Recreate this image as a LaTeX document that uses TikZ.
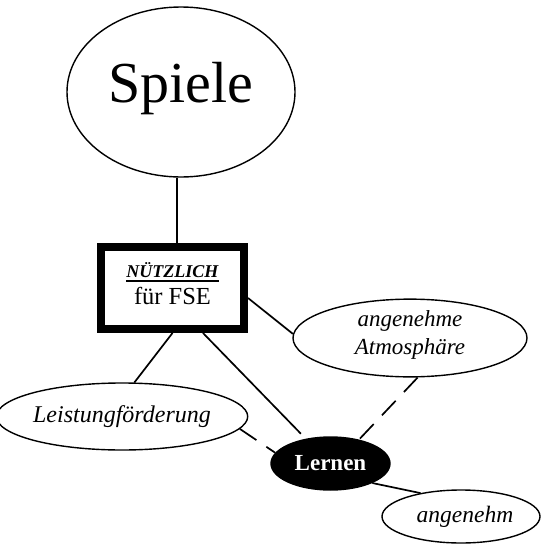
\documentclass[tikz,border=0pt]{standalone}
\usepackage{fontspec}
\setmainfont{Liberation Serif}
\usetikzlibrary{shapes.geometric}
\newcommand\myunder[1]{\setbox0\hbox{#1}\rlap{\rule[-4pt]{\wd0}{1.3pt}}\box0}
\begin{document}
\begin{tikzpicture}[x=1pt,y=-1pt,
  oval/.style={ellipse, draw, line width=1.4pt, inner sep=0pt},
  link/.style={line width=1.7pt},
  dlink/.style={line width=1.7pt, dash pattern=on 20pt off 12pt}]
\useasboundingbox (0,0) rectangle (541,546);
\node[oval, minimum width=228pt, minimum height=170pt, text depth=19.5pt,
  font=\fontsize{58}{60}\selectfont] (spiele) at (181,92) {Spiele};
\node[draw, line width=8pt, minimum width=143pt, minimum height=82pt, inner sep=0pt,
  align=center, font=\fontsize{24.5}{27}\selectfont] (box) at (172.5,288)
  {{\fontsize{18}{18}\selectfont\myunder{\textbf{\textit{NÜTZLICH}}}}\\für FSE\rule[-8.5pt]{0pt}{8.5pt}};
\node[oval, minimum width=234pt, minimum height=70pt, align=center,
  font=\itshape\fontsize{23}{28}\selectfont] (atmo) at (410,338)
  {angenehme\\Atmosphäre\rule[-11pt]{0pt}{11pt}};
\node[oval, minimum width=233pt, minimum height=67pt,
  font=\itshape\fontsize{24}{28}\selectfont] (leist) at (122,416.5) {Leistungförderung};
\node[oval, fill=black, text=white, minimum width=119pt, minimum height=53pt,
  font=\bfseries\fontsize{23}{27}\selectfont] (lernen) at (330.5,463.5) {Lernen};
\node[oval, minimum width=158pt, minimum height=53pt,
  font=\itshape\fontsize{23.5}{28}\selectfont] (ang) at (461,516.5) {\hspace*{8pt}angenehm};
\draw[link] ([xshift=4.5pt]box.north) -- ([xshift=4.5pt]box.north |- spiele.south);
\draw[link] (box.south) -- (leist.70);
\draw[link, shorten >=7pt] ([xshift=30.5pt]box.south) -- (lernen.135);
\draw[link] ([yshift=-10pt]box.east) -- (atmo.178);
\draw[dlink] (leist.-6) -- (lernen.169);
\draw[dlink] (atmo.-79) -- (lernen.40);
\draw[link] (lernen.-25) -- (ang.150);
\end{tikzpicture}
\end{document}
